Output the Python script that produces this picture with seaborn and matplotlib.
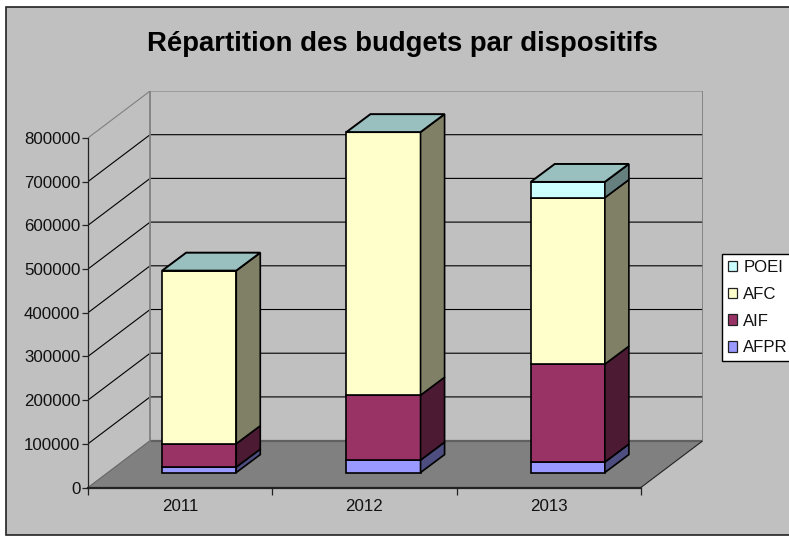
import matplotlib
matplotlib.use('Agg')
import matplotlib.pyplot as plt
import numpy as np
import seaborn as sns
from matplotlib.patches import Patch, Polygon, Rectangle

# valeurs
years = ['2011', '2012', '2013']
afpr = [12500, 28500, 24000]
aif = [53500, 148500, 224000]
afc = [396000, 602000, 381000]
poei = [0, 0, 36000]
y_ticks = [0, 100000, 200000, 300000, 400000, 500000, 600000, 700000, 800000]

series_names = ['AFPR', 'AIF', 'AFC', 'POEI']
series_values = [afpr, aif, afc, poei]
front_colors = ['#9999FF', '#993366', '#FFFFCC', '#CCFFFF']
side_colors = ['#4D4D80', '#4D1A33', '#808066', '#668080']
top_color = '#99BFBF'

W, H = 789, 536
BOX_LEFT, BOX_RIGHT, BOX_BOTTOM, BOX_TOP = 88, 703, 487.5, 91
PX_X = 184.0  # pixels par categorie
PX_Y = 350.5 / 800000  # pixels par unite

# profondeur du plancher et des barres, en unites de donnees
depth_x = 62 / PX_X
depth_y = 47 / PX_Y
bar_dx = 24 / PX_X
bar_dy = 18 / PX_Y
bar_shift = 19 / PX_X
bar_lift = 15 / PX_Y
bar_width = 74 / PX_X

sns.set_theme(style='white')
plt.rcParams['font.family'] = ['Liberation Sans', 'DejaVu Sans']

fig = plt.figure(figsize=(W / 100, H / 100), dpi=100, facecolor='white')
fig.add_artist(Rectangle((5.5 / W, 1 - 535 / H), 800 / W, 528.5 / H, transform=fig.transFigure,
                         facecolor='#C0C0C0', edgecolor='#222222', linewidth=1.2, zorder=-1))
ax = fig.add_axes([BOX_LEFT / W, 1 - BOX_BOTTOM / H, (BOX_RIGHT - BOX_LEFT) / W, (BOX_BOTTOM - BOX_TOP) / H])
ax.patch.set_visible(False)

x_left, x_right = -0.5, 2.5
y_max = y_ticks[-1]

# plancher
ax.add_patch(Polygon([(x_left, 0), (x_right, 0), (x_right + depth_x, depth_y), (x_left + depth_x, depth_y)],
                     closed=True, facecolor='#808080', edgecolor='none', zorder=1))
ax.plot([x_left + depth_x, x_right + depth_x], [depth_y, depth_y], color='#606060', lw=1.6, zorder=1.5)
ax.plot([x_right, x_right + depth_x], [0, depth_y], color='#222222', lw=0.8, zorder=1.5)
ax.plot([x_left, x_left + depth_x], [0, depth_y], color='#666666', lw=0.8, zorder=1.5)

# grille : mur du fond et mur de gauche
for v in y_ticks[1:]:
    col = '#808080' if v == y_max else 'black'
    ax.plot([x_left, x_left + depth_x, x_right + depth_x], [v, v + depth_y, v + depth_y],
            color=col, lw=0.8, zorder=1)
for xb in [x_left + depth_x, x_right + depth_x]:
    ax.plot([xb, xb], [depth_y, y_max + depth_y], color='#808080', lw=1.3, zorder=1.5)

# barres empilees
xpos = np.arange(len(years)) + bar_shift
bottom = np.full(len(years), bar_lift)
for i, name in enumerate(series_names):
    vals = np.array(series_values[i], dtype=float)
    sns.barplot(x=xpos, y=vals, bottom=bottom, native_scale=True, width=bar_width, color=front_colors[i],
                saturation=1, edgecolor='black', linewidth=1.2, errorbar=None, ax=ax, zorder=3)
    for x0, b, v in zip(xpos, bottom, vals):
        if v == 0:
            continue
        xr = x0 + bar_width / 2
        ax.add_patch(Polygon([(xr, b), (xr + bar_dx, b + bar_dy), (xr + bar_dx, b + v + bar_dy), (xr, b + v)],
                             closed=True, facecolor=side_colors[i], edgecolor='black', linewidth=1.2, zorder=3))
    bottom = bottom + vals

# dessus des barres
for x0, b in zip(xpos, bottom):
    xl, xr = x0 - bar_width / 2, x0 + bar_width / 2
    ax.add_patch(Polygon([(xl, b), (xr, b), (xr + bar_dx, b + bar_dy), (xl + bar_dx, b + bar_dy)],
                         closed=True, facecolor=top_color, edgecolor='black', linewidth=1.4, zorder=3.5))

ax.set_xlim(x_left, x_right + depth_x)
ax.set_ylim(0, y_max + depth_y)

sns.despine(ax=ax, top=True, right=True)
for side in ['left', 'bottom']:
    ax.spines[side].set_visible(True)
    ax.spines[side].set_color('#222222')
ax.spines['left'].set_bounds(0, y_max)
ax.spines['left'].set_linewidth(0.9)
ax.spines['bottom'].set_bounds(x_left, x_right)
ax.spines['bottom'].set_linewidth(1.6)

ax.set_xlabel('')
ax.set_ylabel('')
ax.set_yticks(y_ticks)
ax.set_yticklabels([str(v) for v in y_ticks], fontsize=12.2, color='#111111')
ax.set_xticks(np.arange(len(years)))
ax.set_xticklabels(years, fontsize=12.2, color='#111111')
ax.set_xticks([-0.5, 0.5, 1.5, 2.5], minor=True)
ax.tick_params(axis='x', which='major', length=0, pad=8)
ax.tick_params(axis='x', which='minor', length=5, width=0.9, color='#222222', bottom=True)
ax.tick_params(axis='y', which='major', length=4, width=0.9, color='#222222', left=True, pad=1.5)

fig.text(402 / W, 1 - 44 / H, 'Répartition des budgets par dispositifs', ha='center', va='center',
         fontsize=19.8, fontweight='bold', color='black')

handles = [Patch(facecolor=c, edgecolor='#222222', linewidth=0.9) for c in front_colors[::-1]]
leg = fig.legend(handles, series_names[::-1], loc='upper left', bbox_to_anchor=(722 / W, 1 - 254 / H),
                 bbox_transform=fig.transFigure, fontsize=12.1, frameon=True, fancybox=False, framealpha=1,
                 facecolor='white', edgecolor='black', labelcolor='#111111', handlelength=0.55, handleheight=0.6,
                 handletextpad=0.35, labelspacing=0.7, borderpad=0.36, borderaxespad=0)
leg.get_frame().set_linewidth(1)

plt.savefig('out.png', dpi=100)
